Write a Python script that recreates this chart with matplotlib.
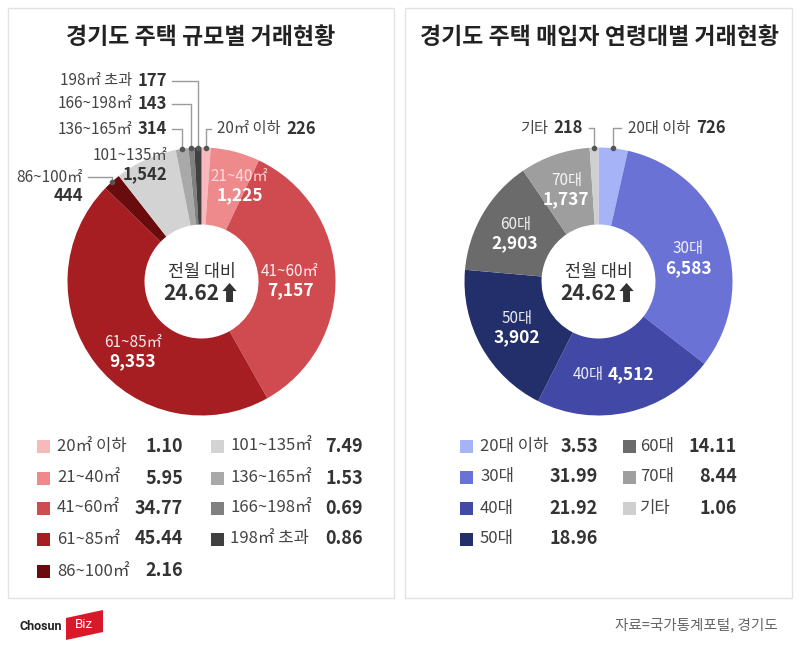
import numpy as np
import matplotlib.pyplot as plt
from matplotlib.patches import Rectangle, Polygon

plt.rcParams['font.family'] = ['Noto Sans CJK KR', 'DejaVu Sans']

# 경기도 주택 규모별 거래현황
size_labels = ['20㎡ 이하', '21~40㎡', '41~60㎡', '61~85㎡', '86~100㎡',
               '101~135㎡', '136~165㎡', '166~198㎡', '198㎡ 초과']
size_counts = [226, 1225, 7157, 9353, 444, 1542, 314, 143, 177]
size_pcts = [1.10, 5.95, 34.77, 45.44, 2.16, 7.49, 1.53, 0.69, 0.86]
size_colors = ['#f7b9bb', '#ee8a8c', '#d04b4f', '#a61e22', '#6a0b0e',
               '#d3d3d3', '#a9a9a9', '#808080', '#404040']

# 경기도 주택 매입자 연령대별 거래현황
age_labels = ['20대 이하', '30대', '40대', '50대', '60대', '70대', '기타']
age_counts = [726, 6583, 4512, 3902, 2903, 1737, 218]
age_pcts = [3.53, 31.99, 21.92, 18.96, 14.11, 8.44, 1.06]
age_colors = ['#a6b4f7', '#6b72d6', '#4248a6', '#232f6b',
              '#6b6b6b', '#9e9e9e', '#cfcfcf']

mom_change = 24.62  # 전월 대비

W, H = 800, 650
R_OUT, R_IN = 134, 57
R_MID = (R_OUT + R_IN) / 2
DARK = '#333333'
LINE = '#9a9a9a'

fig = plt.figure(figsize=(8, 6.5), dpi=100)
fig.patch.set_facecolor('white')
ax = fig.add_axes([0, 0, 1, 1])


def Y(y):
    # 위에서부터 잰 픽셀 -> 축 좌표
    return H - y


def donut(cx, cy, counts, colors):
    wedges, _ = ax.pie(counts, colors=colors, startangle=90, counterclock=False,
                       radius=R_OUT, center=(cx, Y(cy)),
                       wedgeprops=dict(width=R_OUT - R_IN, linewidth=0))
    ax.text(cx, Y(cy - 9.5), '전월 대비', ha='center', va='center',
            fontsize=12.5, color=DARK)
    ax.text(cx, Y(cy + 12), f'{mom_change:.2f}⬆', ha='center', va='center',
            fontsize=15, fontweight='bold', color=DARK)
    return wedges


def wedge_point(w, r):
    a = np.deg2rad((w.theta1 + w.theta2) / 2)
    cx, cy = w.center
    return cx + r * np.cos(a), cy + r * np.sin(a)


def inner_label(w, name, count, dx, dy, name_color='#ffffff', value_color='white'):
    x, y = wedge_point(w, R_MID)
    x, y = x + dx, y - dy
    ax.text(x, y + 9.5, name, ha='center', va='center', fontsize=11,
            color=name_color, alpha=0.9)
    ax.text(x, y - 9.5, f'{count:,}', ha='center', va='center', fontsize=12.5,
            fontweight='bold', color=value_color)


def side_label(x, y, name, count, side='left', two_lines=False):
    if two_lines:
        ax.text(x, Y(y), name, ha='right', va='center', fontsize=11, color='#444444')
        ax.text(x, Y(y + 19), f'{count:,}', ha='right', va='center',
                fontsize=12, fontweight='bold', color=DARK)
        return
    if side == 'left':
        v = ax.text(x, Y(y), f'{count:,}', ha='right', va='center',
                    fontsize=12, fontweight='bold', color=DARK)
        ax.annotate(name, xy=(0, 0.5), xycoords=v, xytext=(-4, 0),
                    textcoords='offset points', ha='right', va='center',
                    fontsize=11, color='#444444')
    else:
        n = ax.text(x, Y(y), name, ha='left', va='center', fontsize=11, color='#444444')
        ax.annotate(f'{count:,}', xy=(1, 0.5), xycoords=n, xytext=(4, 0),
                    textcoords='offset points', ha='left', va='center',
                    fontsize=12, fontweight='bold', color=DARK)


def leader(w, y_text, x_end):
    ex, ey = wedge_point(w, R_OUT)
    ax.plot([ex, ex, x_end], [ey, Y(y_text), Y(y_text)], color=LINE, lw=1)
    ax.plot(ex, ey, 'o', ms=3, color='#555555')


def legend(names, pcts, colors, cols, rows_y):
    i = 0
    for sq_x, lab_x, val_x, n_rows in cols:
        for r in range(n_rows):
            if i >= len(names):
                break
            y = Y(rows_y[r])
            ax.add_patch(Rectangle((sq_x, y - 6.5), 13, 13, facecolor=colors[i],
                                   edgecolor='none'))
            ax.text(lab_x, y, names[i], ha='left', va='center', fontsize=12,
                    color='#444444')
            ax.text(val_x, y, f'{pcts[i]:.2f}', ha='right', va='center',
                    fontsize=13, fontweight='bold', color=DARK)
            i += 1


# 패널 배경
for x0, x1 in [(8, 394), (405, 792)]:
    ax.add_patch(Rectangle((x0, Y(598)), x1 - x0, 590, facecolor='white',
                           edgecolor='#e2e2e2', lw=1, zorder=0))

# 제목
ax.text(201, Y(38), '경기도 주택 규모별 거래현황', ha='center', va='center',
        fontsize=16.5, fontweight='bold', color='#222222')
ax.text(599, Y(38), '경기도 주택 매입자 연령대별 거래현황', ha='center', va='center',
        fontsize=16.5, fontweight='bold', color='#222222')

# 왼쪽 도넛
ws = donut(201.5, 281.5, size_counts, size_colors)
inner_label(ws[1], size_labels[1], size_counts[1], 14, -3, name_color='#ffe3e3')
inner_label(ws[2], size_labels[2], size_counts[2], -7, 3)
inner_label(ws[3], size_labels[3], size_counts[3], 7, 12)
side_label(167, 155, size_labels[5], size_counts[5], two_lines=True)
side_label(83, 177, size_labels[4], size_counts[4], two_lines=True)
leader(ws[4], 177, 88)
for idx, yt in [(8, 81), (7, 104), (6, 129)]:
    side_label(167, yt, size_labels[idx], size_counts[idx])
    leader(ws[idx], yt, 172)
side_label(217, 129, size_labels[0], size_counts[0], side='right')
leader(ws[0], 129, 211)

# 오른쪽 도넛
wa = donut(598.5, 281.5, age_counts, age_colors)
inner_label(wa[1], age_labels[1], age_counts[1], 0, 9)
inner_label(wa[3], age_labels[3], age_counts[3], 2, 0)
inner_label(wa[4], age_labels[4], age_counts[4], -1, 1)
inner_label(wa[5], age_labels[5], age_counts[5], -1, -1)
x40, y40 = wedge_point(wa[2], R_MID)
ax.text(x40 - 16, y40, age_labels[2], ha='right', va='center', fontsize=11,
        color='white', alpha=0.9)
ax.text(x40 - 12, y40, f'{age_counts[2]:,}', ha='left', va='center',
        fontsize=12.5, fontweight='bold', color='white')
side_label(583, 128, age_labels[6], age_counts[6])
leader(wa[6], 128, 589)
side_label(628, 128, age_labels[0], age_counts[0], side='right')
leader(wa[0], 128, 621)

# 범례
legend(size_labels, size_pcts, size_colors,
       [(37, 57, 183, 5), (211, 230, 363, 4)], [446, 478, 508, 539, 571])
legend(age_labels, age_pcts, age_colors,
       [(460, 480, 598, 4), (623, 640, 737, 3)], [446, 477, 508, 539])

# 하단
ax.text(20, Y(627), 'Chosun', ha='left', va='center', fontsize=9,
        fontweight='bold', color='#222222', family='Roboto')
ax.add_patch(Polygon([(66, Y(640)), (66, Y(618)), (103, Y(610)), (103, Y(632))],
                     closed=True, facecolor='#d7192a', edgecolor='none'))
ax.text(84, Y(625), 'Biz', ha='center', va='center', fontsize=9.5,
        color='white', family='Roboto')
ax.text(778, Y(625), '자료=국가통계포털, 경기도', ha='right', va='center',
        fontsize=10.5, color='#666666')

ax.set_xlim(0, W)
ax.set_ylim(0, H)
ax.set_aspect('equal')
ax.axis('off')

fig.savefig('out.png', dpi=100, facecolor=fig.get_facecolor())
